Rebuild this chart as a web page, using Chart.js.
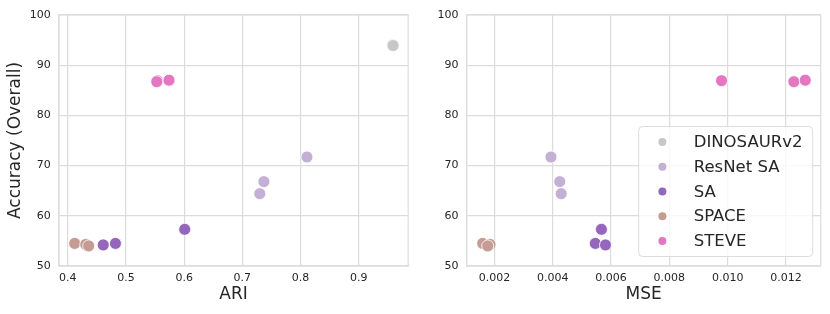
<!DOCTYPE html>
<html>
<head>
<meta charset="UTF-8">
<script src="https://cdn.jsdelivr.net/npm/chart.js@4.4.4/dist/chart.umd.min.js"></script>
<style>
  html, body { margin: 0; padding: 0; background: #fff; }
  .wrap { position: absolute; top: 0; width: 415px; height: 314px; }
  #w1 { left: 0; }
  #w2 { left: 415px; }
</style>
</head>
<body>
<div class="wrap" id="w1"><canvas id="ari" width="415" height="314"></canvas></div>
<div class="wrap" id="w2"><canvas id="mse" width="415" height="314"></canvas></div>
<script>
// methods + colours
const methods = ['DINOSAURv2', 'ResNet SA', 'SA', 'SPACE', 'STEVE']
const colors = ['#c7c7c7', '#c5b0d5', '#9467bd', '#c49c94', '#e377c2']

// per-method values
const dinoAri = [0.958, 0.959]
const dinoMse = [null, null]
const dinoAcc = [94.0, 93.9]

const resnetAri = [0.811, 0.737, 0.730]
const resnetMse = [0.00394, 0.00424, 0.00429]
const resnetAcc = [71.7, 66.8, 64.4]

const saAri = [0.601, 0.482, 0.461]
const saMse = [0.00567, 0.00546, 0.00581]
const saAcc = [57.3, 54.5, 54.2]

const spaceAri = [0.412, 0.431, 0.436]
const spaceMse = [0.00160, 0.00185, 0.00177]
const spaceAcc = [54.5, 54.3, 54.0]

const steveAri = [0.554, 0.553, 0.574]
const steveMse = [0.00979, 0.01227, 0.01266]
const steveAcc = [86.9, 86.7, 87.0]

const ariTicks = [0.4, 0.5, 0.6, 0.7, 0.8, 0.9]
const mseTicks = [0.002, 0.004, 0.006, 0.008, 0.010, 0.012]
const accTicks = [50, 60, 70, 80, 90, 100]

const accs = [dinoAcc, resnetAcc, saAcc, spaceAcc, steveAcc]
const aris = [dinoAri, resnetAri, saAri, spaceAri, steveAri]
const mses = [dinoMse, resnetMse, saMse, spaceMse, steveMse]

const FONT = "'DejaVu Sans', sans-serif"
const TXT = '#262626'
const GRID = '#dcdcdc'

function makeSets(xs) {
  return methods.map((m, i) => ({
    label: m,
    data: xs[i].map((x, j) => ({x: x, y: accs[i][j]})).filter(p => p.x !== null),
    backgroundColor: colors[i],
    borderColor: '#ffffff',
    borderWidth: 0.8,
    pointRadius: 6,
    pointHoverRadius: 6,
  }))
}

// full box around the plot area (seaborn whitegrid look)
const frame = {
  id: 'frame',
  beforeDatasetsDraw(chart) {
    const a = chart.chartArea
    const ctx = chart.ctx
    ctx.save()
    ctx.strokeStyle = GRID
    ctx.lineWidth = 1.2
    ctx.strokeRect(a.left, a.top, a.right - a.left, a.bottom - a.top)
    ctx.restore()
  }
}

// legend drawn inside the plot area, lower right
const boxLegend = {
  id: 'boxLegend',
  afterDraw(chart, args, opts) {
    if (!opts.show) return
    const ctx = chart.ctx
    const a = chart.chartArea
    const w = 174, h = 130
    const x0 = a.right - 8 - w, y0 = a.bottom - 9.5 - h
    ctx.save()
    ctx.beginPath()
    ctx.roundRect(x0, y0, w, h, 4)
    ctx.fillStyle = 'rgba(255,255,255,0.8)'
    ctx.fill()
    ctx.strokeStyle = '#dcdcdc'
    ctx.lineWidth = 1
    ctx.stroke()
    ctx.font = '16.5px ' + FONT
    ctx.textBaseline = 'middle'
    methods.forEach((m, i) => {
      const y = y0 + 15.6 + i * 24.7
      ctx.beginPath()
      ctx.arc(x0 + 23.7, y, 4, 0, Math.PI * 2)
      ctx.fillStyle = colors[i]
      ctx.fill()
      ctx.fillStyle = TXT
      ctx.fillText(m, x0 + 55, y + 1)
    })
    ctx.restore()
  }
}

function makeChart(id, xs, xMin, xMax, xTicks, xTitle, xFmt, yWidth, yTitle, padRight, legend) {
  return new Chart(document.getElementById(id), {
    type: 'scatter',
    data: {datasets: makeSets(xs)},
    plugins: [frame, boxLegend],
    options: {
      responsive: false,
      animation: false,
      layout: {padding: {top: 13, right: padRight, left: 0, bottom: 0}},
      plugins: {
        legend: {display: false},
        tooltip: {enabled: false},
        boxLegend: {show: legend},
      },
      scales: {
        x: {
          type: 'linear',
          min: xMin,
          max: xMax,
          afterBuildTicks: s => { s.ticks = xTicks.map(v => ({value: v})) },
          afterFit: s => { s.height = 48 },
          grid: {color: GRID, lineWidth: 1.2, drawTicks: false},
          border: {color: GRID, width: 1.2},
          ticks: {padding: 5.5, color: TXT, font: {family: FONT, size: 11}, callback: v => xFmt(v), maxRotation: 0, autoSkip: false},
          title: {display: true, text: xTitle, color: TXT, font: {family: FONT, size: 17}, padding: {top: 9, bottom: 9}},
        },
        y: {
          min: 50,
          max: 100,
          afterBuildTicks: s => { s.ticks = accTicks.map(v => ({value: v})) },
          afterFit: s => { s.width = yWidth },
          grid: {color: GRID, lineWidth: 1.2, drawTicks: false},
          border: {color: GRID, width: 1.2},
          ticks: {padding: 8.3, color: TXT, font: {family: FONT, size: 11}},
          title: {display: !!yTitle, text: yTitle, color: TXT, font: {family: FONT, size: 17}, padding: {top: 5.5, bottom: 5.5}},
        },
      },
    },
  })
}

makeChart('ari', aris, 0.385, 0.985, ariTicks, 'ARI', v => v.toFixed(1), 59, 'Accuracy (Overall)', 2.3, false)
makeChart('mse', mses, 0.00105, 0.01319, mseTicks, 'MSE', v => v.toFixed(3), 51.7, '', 9.3, true)
</script>
</body>
</html>
